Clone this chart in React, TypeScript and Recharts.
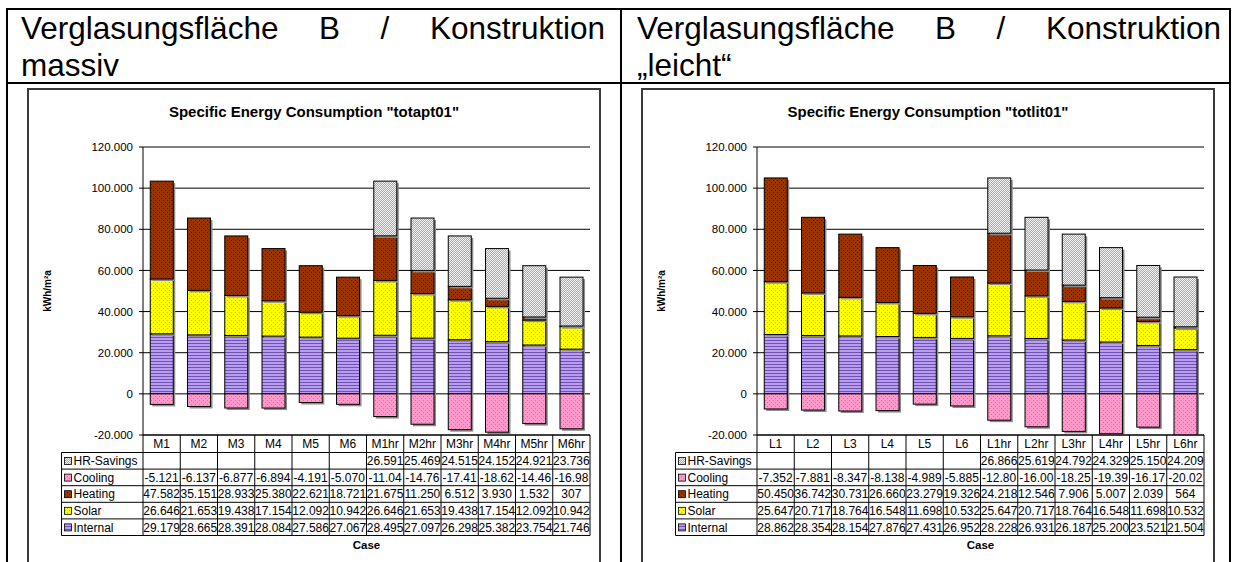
import React from 'react';
import { BarChart, Bar, XAxis, YAxis, CartesianGrid, ReferenceLine } from 'recharts';

// ---------- DATA ----------
const massivCases = ['M1', 'M2', 'M3', 'M4', 'M5', 'M6', 'M1hr', 'M2hr', 'M3hr', 'M4hr', 'M5hr', 'M6hr'];
const massivHRSavings = [null, null, null, null, null, null, 26591, 25469, 24515, 24152, 24921, 23736];
const massivCooling = [-5121, -6137, -6877, -6894, -4191, -5070, -11040, -14760, -17410, -18620, -14460, -16980];
const massivHeating = [47582, 35151, 28933, 25380, 22621, 18721, 21675, 11250, 6512, 3930, 1532, 307];
const massivSolar = [26646, 21653, 19438, 17154, 12092, 10942, 26646, 21653, 19438, 17154, 12092, 10942];
const massivInternal = [29179, 28665, 28391, 28084, 27586, 27067, 28495, 27097, 26298, 25382, 23754, 21746];

const leichtCases = ['L1', 'L2', 'L3', 'L4', 'L5', 'L6', 'L1hr', 'L2hr', 'L3hr', 'L4hr', 'L5hr', 'L6hr'];
const leichtHRSavings = [null, null, null, null, null, null, 26866, 25619, 24792, 24329, 25150, 24209];
const leichtCooling = [-7352, -7881, -8347, -8138, -4989, -5885, -12800, -16000, -18250, -19390, -16170, -20020];
const leichtHeating = [50450, 36742, 30731, 26660, 23279, 19326, 24218, 12546, 7906, 5007, 2039, 564];
const leichtSolar = [25647, 20717, 18764, 16548, 11698, 10532, 25647, 20717, 18764, 16548, 11698, 10532];
const leichtInternal = [28862, 28354, 28154, 27876, 27431, 26952, 28228, 26931, 26187, 25200, 23521, 21504];

const yTicks = [-20000, 0, 20000, 40000, 60000, 80000, 100000, 120000];
const headerLeft = ['Verglasungsfläche B / Konstruktion', 'massiv'];
const headerRight = ['Verglasungsfläche B / Konstruktion', '„leicht“'];
const titleLeft = 'Specific Energy Consumption "totapt01"';
const titleRight = 'Specific Energy Consumption "totlit01"';
const yLabel = 'kWh/m²a';
const xLabel = 'Case';

// ---------- LAYOUT ----------
const FONT = '"Liberation Sans", Arial, Helvetica, sans-serif';
const CH_W = 572;
const CH_H = 473;
const Y_W = 115;
const M_TOP = 58;
const M_RIGHT = 10;
const X_H = 127;
const PLOT_W = CH_W - Y_W - M_RIGHT;
const BAND = PLOT_W / 12;
const LEG_W = 81.5;
const HEAD_H = 17.5;
const ROW_H = 16.6;

function fmtDE(v: number): string {
  const s = Math.abs(Math.round(v)).toString().replace(/\B(?=(\d{3})+(?!\d))/g, '.');
  return (v < 0 ? '-' : '') + s;
}
function cellText(v: number | null): string {
  if (v === null || v === undefined) return '';
  const s = fmtDE(v);
  return s.length > 6 ? s.slice(0, 6) : s;
}

const Patterns = ({ p }: { p: string }) => (
  <defs>
    <pattern id={`${p}-int`} width="4" height="3" patternUnits="userSpaceOnUse">
      <rect width="4" height="3" fill="#B79EEE" />
      <rect y="2" width="4" height="1" fill="#7350B4" />
    </pattern>
    <pattern id={`${p}-sol`} width="4" height="4" patternUnits="userSpaceOnUse">
      <rect width="4" height="4" fill="#FFFF00" />
      <rect x="1" y="1" width="1" height="1" fill="#C8C800" />
      <rect x="3" y="3" width="1" height="1" fill="#C8C800" />
    </pattern>
    <pattern id={`${p}-hea`} width="4" height="4" patternUnits="userSpaceOnUse">
      <rect width="4" height="4" fill="#9A3300" />
      <rect x="1" y="1" width="1" height="1" fill="#5E1E00" />
      <rect x="3" y="3" width="1" height="1" fill="#5E1E00" />
    </pattern>
    <pattern id={`${p}-coo`} width="4" height="4" patternUnits="userSpaceOnUse">
      <rect width="4" height="4" fill="#FF99CC" />
      <rect x="1" y="1" width="1" height="1" fill="#D070A8" />
      <rect x="3" y="3" width="1" height="1" fill="#D070A8" />
    </pattern>
    <pattern id={`${p}-hr`} width="2" height="2" patternUnits="userSpaceOnUse">
      <rect width="2" height="2" fill="#F4F4F4" />
      <rect x="0" y="0" width="1" height="1" fill="#A8A8A8" />
      <rect x="1" y="1" width="1" height="1" fill="#A8A8A8" />
    </pattern>
  </defs>
);

const BarShape = (props: any) => {
  let { x, y, width, height, fill } = props;
  if (height == null || width == null || isNaN(height)) return null;
  if (height < 0) {
    y = y + height;
    height = -height;
  }
  if (height === 0) return null;
  return (
    <g>
      <rect x={x + 2} y={y + 2} width={width} height={height} fill="#8c8c8c" />
      <rect x={x} y={y} width={width} height={height} fill={fill} stroke="#000" strokeWidth={1} />
    </g>
  );
};

type ChartProps = {
  p: string;
  cases: string[];
  hr: (number | null)[];
  cooling: number[];
  heating: number[];
  solar: number[];
  internal: number[];
};

function EnergyChart({ p, cases, hr, cooling, heating, solar, internal }: ChartProps) {
  const data = cases.map((c, i) => ({
    case: c,
    hr: hr[i],
    cooling: cooling[i],
    heating: heating[i],
    solar: solar[i],
    internal: internal[i],
  }));
  const tableRows = [
    { name: 'HR-Savings', fill: `url(#${p}-hr)`, values: hr },
    { name: 'Cooling', fill: `url(#${p}-coo)`, values: cooling },
    { name: 'Heating', fill: `url(#${p}-hea)`, values: heating },
    { name: 'Solar', fill: `url(#${p}-sol)`, values: solar },
    { name: 'Internal', fill: `url(#${p}-int)`, values: internal },
  ];
  const bottom = HEAD_H + tableRows.length * ROW_H;

  const TableTick = (props: any) => {
    const { x, y, payload } = props;
    const i = cases.indexOf(payload.value);
    const xl = x - BAND / 2;
    const xr = x + BAND / 2;
    const els: React.ReactNode[] = [];
    els.push(
      <text key="h" x={x} y={y + 13} textAnchor="middle" fontSize={12} fill="#000" fontFamily={FONT}>
        {payload.value}
      </text>
    );
    els.push(<line key="vr" x1={xr} x2={xr} y1={y} y2={y + bottom} stroke="#000" strokeWidth={1} />);
    tableRows.forEach((r, k) => {
      const top = y + HEAD_H + k * ROW_H;
      els.push(<line key={`hl${k}`} x1={xl} x2={xr} y1={top} y2={top} stroke="#000" strokeWidth={1} />);
      els.push(
        <text key={`t${k}`} x={x} y={top + 12.6} textAnchor="middle" fontSize={12} fill="#000" fontFamily={FONT}>
          {cellText(r.values[i] as any)}
        </text>
      );
    });
    els.push(<line key="bl" x1={xl} x2={xr} y1={y + bottom} y2={y + bottom} stroke="#000" strokeWidth={1} />);
    if (i === 0) {
      const lx = xl - LEG_W;
      els.push(<line key="vl" x1={xl} x2={xl} y1={y} y2={y + bottom} stroke="#000" strokeWidth={1} />);
      els.push(<line key="lv" x1={lx} x2={lx} y1={y + HEAD_H} y2={y + bottom} stroke="#000" strokeWidth={1} />);
      tableRows.forEach((r, k) => {
        const top = y + HEAD_H + k * ROW_H;
        els.push(<line key={`lh${k}`} x1={lx} x2={xl} y1={top} y2={top} stroke="#000" strokeWidth={1} />);
        els.push(
          <rect key={`lk${k}`} x={lx + 3} y={top + 5} width={7} height={7} fill={r.fill} stroke="#000" strokeWidth={0.8} />
        );
        els.push(
          <text key={`ln${k}`} x={lx + 12} y={top + 12.6} fontSize={12} fill="#000" fontFamily={FONT}>
            {r.name}
          </text>
        );
      });
      els.push(<line key="lb" x1={lx} x2={xl} y1={y + bottom} y2={y + bottom} stroke="#000" strokeWidth={1} />);
      els.push(
        <text key="case" x={xl + PLOT_W / 2} y={y + 114} textAnchor="middle" fontSize={11.5} fontWeight="bold" fill="#000" fontFamily={FONT}>
          {xLabel}
        </text>
      );
    }
    return <g>{els}</g>;
  };

  return (
    <BarChart
      width={CH_W}
      height={CH_H}
      data={data}
      margin={{ top: M_TOP, right: M_RIGHT, left: 0, bottom: 0 }}
      stackOffset="sign"
      barCategoryGap="19.5%"
    >
      <Patterns p={p} />
      <CartesianGrid vertical={false} stroke="#000" strokeWidth={1} />
      <XAxis
        dataKey="case"
        height={X_H}
        interval={0}
        tickLine={false}
        tickSize={0}
        tickMargin={0}
        axisLine={{ stroke: '#000' }}
        tick={TableTick}
      />
      <YAxis
        domain={[-20000, 120000]}
        ticks={yTicks}
        interval={0}
        allowDataOverflow
        width={Y_W}
        tickSize={4}
        tickMargin={6}
        tickFormatter={fmtDE}
        axisLine={{ stroke: '#000' }}
        tickLine={{ stroke: '#000' }}
        tick={{ fill: '#000', fontSize: 11.5, fontFamily: FONT }}
      />
      <YAxis
        yAxisId="r"
        orientation="right"
        domain={[-20000, 120000]}
        width={0}
        tick={false}
        tickLine={false}
        axisLine={{ stroke: '#808080' }}
      />
      <ReferenceLine y={120000} stroke="#808080" strokeWidth={1} />
      <Bar dataKey="internal" name="Internal" stackId="a" fill={`url(#${p}-int)`} shape={BarShape} isAnimationActive={false} />
      <Bar dataKey="solar" name="Solar" stackId="a" fill={`url(#${p}-sol)`} shape={BarShape} isAnimationActive={false} />
      <Bar dataKey="heating" name="Heating" stackId="a" fill={`url(#${p}-hea)`} shape={BarShape} isAnimationActive={false} />
      <Bar dataKey="hr" name="HR-Savings" stackId="a" fill={`url(#${p}-hr)`} shape={BarShape} isAnimationActive={false} />
      <Bar dataKey="cooling" name="Cooling" stackId="a" fill={`url(#${p}-coo)`} shape={BarShape} isAnimationActive={false} />
    </BarChart>
  );
}

const abs = (l: number, t: number, extra: React.CSSProperties = {}): React.CSSProperties => ({
  position: 'absolute',
  left: l,
  top: t,
  ...extra,
});

function Header({ left, lines }: { left: number; lines: string[] }) {
  const common: React.CSSProperties = {
    fontFamily: FONT,
    fontSize: 31.5,
    lineHeight: '37px',
    color: '#000',
    whiteSpace: 'nowrap',
  };
  return (
    <>
      <div style={abs(left, 9.6, { ...common, width: 584, textAlign: 'justify', textAlignLast: 'justify', whiteSpace: 'normal' })}>
        {lines[0]}
      </div>
      <div style={abs(left, 46.6, common)}>{lines[1]}</div>
    </>
  );
}

function ChartBox({ left, title }: { left: number; title: string }) {
  return (
    <>
      <div style={abs(left - 1, 88, { width: CH_W + 2, height: 520, border: '2px solid #3a3a3a', boxSizing: 'border-box' })} />
      <div
        style={abs(left, 103.3, {
          width: CH_W,
          textAlign: 'center',
          fontFamily: FONT,
          fontWeight: 'bold',
          fontSize: 15,
          lineHeight: '17px',
          color: '#000',
        })}
      >
        {title}
      </div>
      <div
        style={abs(left + 19.7 - 50, 291.3 - 6, {
          width: 100,
          height: 12,
          lineHeight: '12px',
          textAlign: 'center',
          fontFamily: FONT,
          fontWeight: 'bold',
          fontSize: 10,
          color: '#000',
          transform: 'rotate(-90deg)',
        })}
      >
        {yLabel}
      </div>
    </>
  );
}

export default function App() {
  return (
    <div style={{ position: 'absolute', left: 0, top: 0, width: 1234, height: 562, overflow: 'hidden', background: '#fff', fontFamily: FONT }}>
      <div style={abs(6, 8, { width: 1225, height: 620, border: '2px solid #000', boxSizing: 'border-box' })} />
      <div style={abs(6, 82, { width: 1225, height: 2, background: '#000' })} />
      <div style={abs(620, 8, { width: 2, height: 620, background: '#000' })} />

      <Header left={21} lines={headerLeft} />
      <Header left={637} lines={headerRight} />

      <ChartBox left={28} title={titleLeft} />
      <ChartBox left={642} title={titleRight} />

      <div style={abs(28, 89)}>
        <EnergyChart
          p="m"
          cases={massivCases}
          hr={massivHRSavings}
          cooling={massivCooling}
          heating={massivHeating}
          solar={massivSolar}
          internal={massivInternal}
        />
      </div>
      <div style={abs(642, 89)}>
        <EnergyChart
          p="l"
          cases={leichtCases}
          hr={leichtHRSavings}
          cooling={leichtCooling}
          heating={leichtHeating}
          solar={leichtSolar}
          internal={leichtInternal}
        />
      </div>
    </div>
  );
}
